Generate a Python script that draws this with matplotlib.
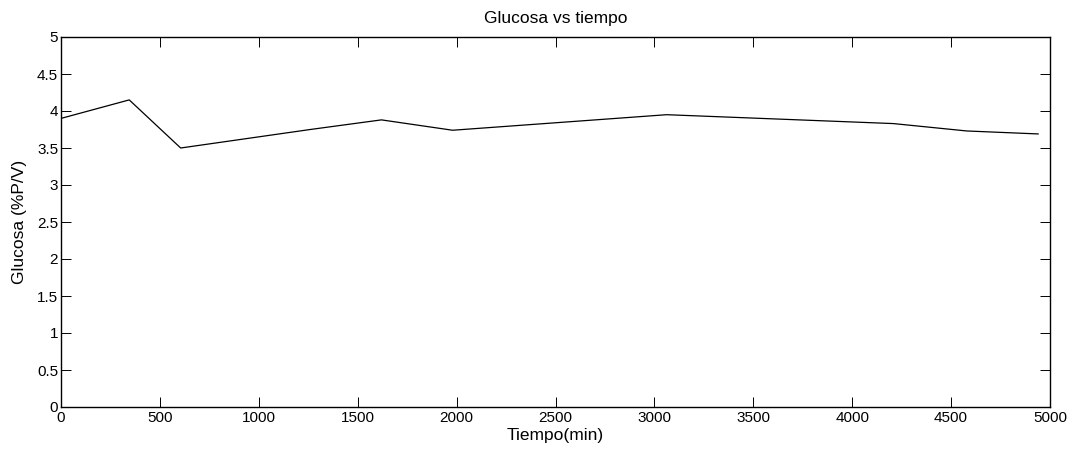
import numpy as np
import matplotlib.pyplot as plt

plt.rcParams['font.family'] = ['Liberation Sans', 'DejaVu Sans']

# datos
tiempo = [0, 345, 605, 1260, 1620, 1980, 3062, 4208, 4580, 4940]
glucosa = [3.90, 4.15, 3.50, 3.75, 3.88, 3.74, 3.95, 3.83, 3.73, 3.69]

xticks = [0, 500, 1000, 1500, 2000, 2500, 3000, 3500, 4000, 4500, 5000]
yticks = [0, 0.5, 1, 1.5, 2, 2.5, 3, 3.5, 4, 4.5, 5]

fig = plt.figure(figsize=(10.70, 4.49), dpi=100)
ax = fig.add_axes([61/1070, 1 - 407/449, (1050 - 61)/1070, (407 - 37)/449])

ax.plot(tiempo, glucosa, color='black', linewidth=0.9)

ax.set_xlim(0, 5000)
ax.set_ylim(0, 5)
ax.set_xticks(xticks)
ax.set_yticks(yticks)
ax.set_xticklabels([str(t) for t in xticks])
ax.set_yticklabels(['0', '0.5', '1', '1.5', '2', '2.5', '3', '3.5', '4', '4.5', '5'])
ax.tick_params(direction='in', length=7, width=0.7, top=True, right=True,
               labelsize=11, pad=2)
ax.tick_params(axis='x', pad=3)
for s in ax.spines.values():
    s.set_linewidth(1.0)

ax.set_title('Glucosa vs tiempo', fontsize=12.5, pad=10)
ax.set_xlabel('Tiempo(min)', fontsize=12.5, labelpad=2)
ax.set_ylabel('Glucosa (%P/V)', fontsize=12.5, labelpad=7)

fig.savefig('out.png', dpi=100)
